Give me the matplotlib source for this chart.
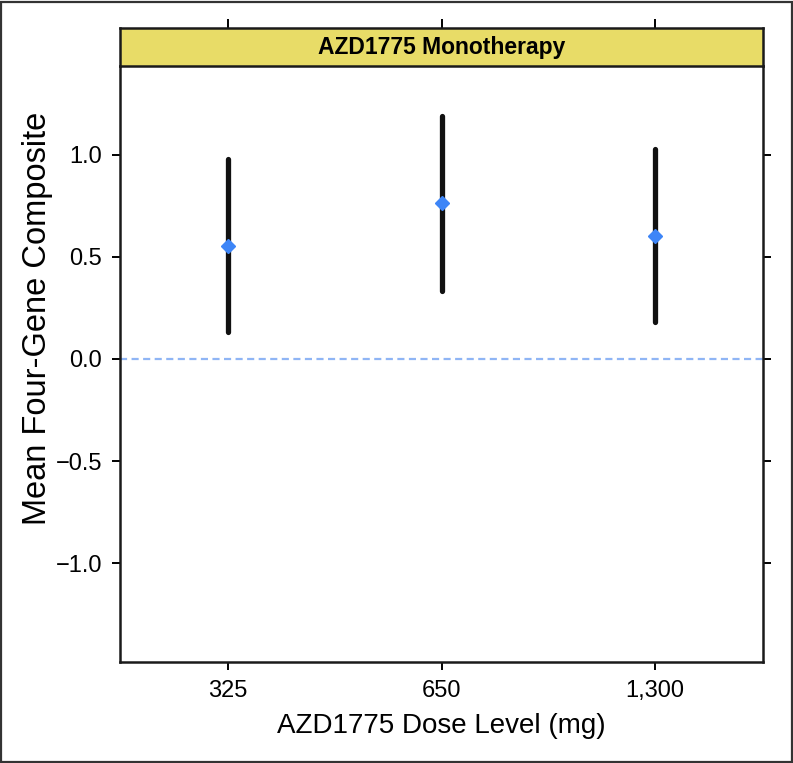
import matplotlib
matplotlib.use('Agg')
import matplotlib.pyplot as plt
from matplotlib.patches import Rectangle

# dose levels and composite score summary (mean with interval)
doses = ['325', '650', '1,300']
means = [0.555, 0.765, 0.604]
lower = [0.131, 0.333, 0.180]
upper = [0.979, 1.191, 1.029]
yticks = [-1.0, -0.5, 0.0, 0.5, 1.0]

plt.rcParams['font.family'] = ['Liberation Sans', 'DejaVu Sans']

fig = plt.figure(figsize=(7.93, 7.63), dpi=100)
ax = fig.add_axes([0.1513, 0.1324, 0.8109, 0.7811])
strip = fig.add_axes([0.1513, 0.9135, 0.8109, 0.0498])

x = list(range(1, len(doses) + 1))
for i in range(len(x)):
    ax.plot([x[i], x[i]], [lower[i], upper[i]], color='#111111', lw=3.8,
            solid_capstyle='round', zorder=2)
ax.plot(x, means, linestyle='none', marker='D', markersize=7, color='#3d85f7',
        markeredgecolor='#3d85f7', zorder=3)
ax.axhline(0, color='#8fb5f5', lw=1.6, ls=(0, (3.2, 2)), zorder=1)

ax.set_xlim(0.494, 3.506)
ax.set_ylim(-1.485, 1.436)
ax.set_xticks(x)
ax.set_xticklabels(doses)
ax.set_yticks(yticks)
ax.set_yticklabels(['%.1f' % v if v >= 0 else '\u2212%.1f' % -v for v in yticks])
ax.tick_params(direction='out', length=6, width=1.4, labelsize=17,
               left=True, right=True, top=False, bottom=True, pad=7)
for s in ax.spines.values():
    s.set_linewidth(1.8)
    s.set_color('#1a1a1a')
ax.spines['top'].set_visible(False)

ax.set_xlabel('AZD1775 Dose Level (mg)', fontsize=20, labelpad=8)
ax.set_ylabel('Mean Four-Gene Composite', fontsize=23.5)
ax.yaxis.set_label_coords(-0.104, 0.577)

strip.set_facecolor('#e8dc67')
strip.set_xlim(0.494, 3.506)
strip.set_ylim(0, 1)
strip.set_yticks([])
strip.set_xticks(x)
strip.tick_params(axis='x', direction='out', length=6.5, width=1.4, top=True,
                  bottom=False, labeltop=False, labelbottom=False)
for s in strip.spines.values():
    s.set_linewidth(1.8)
    s.set_color('#1a1a1a')
strip.text(0.5, 0.5, 'AZD1775 Monotherapy', transform=strip.transAxes,
           ha='center', va='center', fontsize=16.5, fontweight='bold')

# frame round the whole figure
fig.patches.append(Rectangle((0.001, 0.001), 0.998, 0.997, transform=fig.transFigure,
                             fill=False, edgecolor='#333333', lw=1.6))

fig.savefig('out.png', dpi=100)
